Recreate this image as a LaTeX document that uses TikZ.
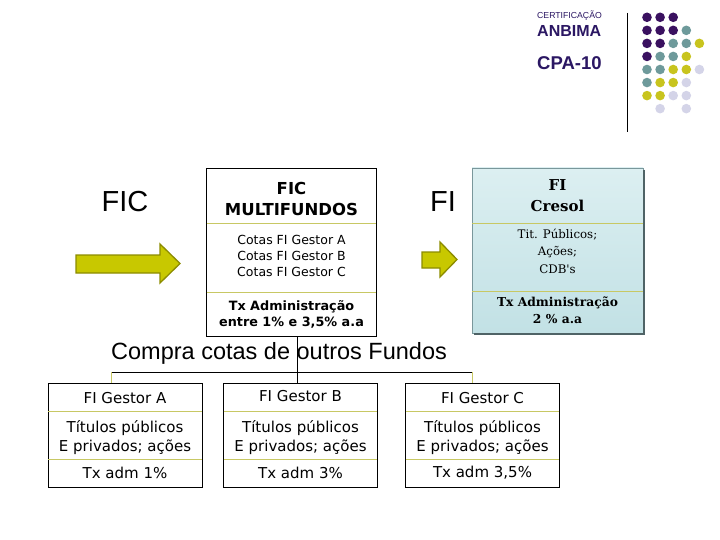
\documentclass[tikz,border=0pt]{standalone}
\usepackage{fontspec}
\setmainfont{DejaVu Sans}
\newfontfamily\arialf{Liberation Sans}
\newfontfamily\serf{DejaVu Serif}
\usetikzlibrary{calc}
\definecolor{dP}{HTML}{3A1160}
\definecolor{dT}{HTML}{6E9A9B}
\definecolor{dY}{HTML}{C8C41E}
\definecolor{dL}{HTML}{D4D4E8}
\definecolor{navy}{HTML}{2B1763}
\definecolor{arrfill}{HTML}{C8C800}
\definecolor{arrline}{HTML}{8C8C00}
\definecolor{divline}{HTML}{C8C864}
\definecolor{crestop}{HTML}{DCEFF1}
\definecolor{cresbot}{HTML}{C2E1E5}
\definecolor{cresline}{HTML}{7A979B}
\definecolor{cresshadow}{HTML}{4F6366}
\begin{document}
\begin{tikzpicture}[x=1pt,y=-1pt,
  dot/.style={circle,inner sep=0pt,minimum size=9.6pt},
  box/.style={draw=black,line width=0.8pt,inner sep=0pt,fill=white},
  divl/.style={draw=divline,line width=1pt},
  conn/.style={draw=black,line width=0.8pt},
  yconn/.style={draw=divline,line width=1pt},
  arrowshape/.style={fill=arrfill,draw=arrline,line width=1.3pt,line join=miter},
  txt/.style={inner sep=0pt,align=center},
  cellfont/.style={font=\fontsize{15}{19}\selectfont},
]
\fill[white] (0,0) rectangle (720,540);
\useasboundingbox (0,0) rectangle (720,540);

% ---------- header ----------
\node[anchor=base west,inner sep=0pt,text=navy,font=\arialf\fontsize{8.7}{10}\selectfont] (cert) at (537,18.8) {CERTIFICAÇÃO};
\node[anchor=base west,inner sep=0pt,text=navy,font=\arialf\bfseries\fontsize{16}{18}\selectfont] (anb) at (537,36.5) {ANBIMA};
\node[anchor=base west,inner sep=0pt,text=navy,font=\arialf\bfseries\fontsize{18.5}{20}\selectfont] (cpa) at (537,70) {CPA-10};
\coordinate (vt) at (627,13);
\coordinate (vb) at (627,132);
\draw[line width=1pt] (vt) -- (vb);

\foreach \c/\r/\col [count=\i] in {
  0/0/dP,1/0/dP,2/0/dP,
  0/1/dP,1/1/dP,2/1/dP,3/1/dT,
  0/2/dP,1/2/dP,2/2/dT,3/2/dT,4/2/dY,
  0/3/dP,1/3/dT,2/3/dT,3/3/dY,
  0/4/dT,1/4/dT,2/4/dY,3/4/dY,4/4/dL,
  0/5/dT,1/5/dY,2/5/dY,3/5/dL,
  0/6/dY,1/6/dY,2/6/dL,3/6/dL,
  1/7/dL,3/7/dL}
  \node[dot,fill=\col] (dot\i) at ({647+13.1*\c},{17.3+13.05*\r}) {};

% ---------- FIC / FI labels and arrows ----------
\node[inner sep=0pt,font=\arialf\fontsize{29}{32}\selectfont] (fic) at (125,202) {FIC};
\node[inner sep=0pt,font=\arialf\fontsize{29}{32}\selectfont] (fi) at (443,202) {FI};

\draw[arrowshape] (76,255) -- (160,255) -- (160,244) -- (180,263.5) -- (160,283) -- (160,273) -- (76,273) -- cycle;
\draw[arrowshape] (422,252) -- (440,252) -- (440,242) -- (457,259.5) -- (440,277) -- (440,268) -- (422,268) -- cycle;

% ---------- FIC MULTIFUNDOS box ----------
\node[box,minimum width=170pt,minimum height=168pt] (fm) at (291.5,252) {};
\draw[divl] ($(fm.north west)+(0.5,56)$) -- ($(fm.north east)+(-0.5,56)$);
\draw[divl] ($(fm.north west)+(0.5,124.5)$) -- ($(fm.north east)+(-0.5,124.5)$);
\node[txt,font=\bfseries\fontsize{16.5}{21.7}\selectfont] (fmh) at (291.5,199) {FIC\\MULTIFUNDOS};
\node[txt,font=\fontsize{12.5}{16}\selectfont] (fmm) at (291.5,255.5) {Cotas FI Gestor A\\Cotas FI Gestor B\\Cotas FI Gestor C};
\node[txt,font=\bfseries\fontsize{12.8}{16.7}\selectfont] (fmb) at (291.5,314.5) {Tx Administração\\entre 1\% e 3,5\% a.a};

% ---------- FI Cresol box ----------
\node[inner sep=0pt,minimum width=171pt,minimum height=165pt,top color=crestop,bottom color=cresbot,draw=cresline,line width=0.8pt] (cr) at (557.5,250.5) {};
\draw[cresshadow,line width=1.4pt] ($(cr.north east)+(0.5,2)$) -- ($(cr.south east)+(0.5,0.5)$) -- ($(cr.south west)+(2,0.5)$);
\draw[divl] ($(cr.north west)+(0.5,56)$) -- ($(cr.north east)+(-0.5,56)$);
\draw[divl] ($(cr.north west)+(0.5,123.5)$) -- ($(cr.north east)+(-0.5,123.5)$);
\node[txt,font=\serf\bfseries\fontsize{15}{21}\selectfont] (crh) at (557.5,196) {FI\\Cresol};
\node[txt,font=\serf\fontsize{11.8}{17.5}\selectfont] (crm) at (557.5,251) {Tit. Públicos;\\Ações;\\CDB's};
\node[txt,font=\serf\bfseries\fontsize{12.3}{17}\selectfont] (crb) at (557.5,310) {Tx Administração\\2 \% a.a};

% ---------- Compra cotas ----------
\node[anchor=base west,inner sep=0pt,font=\arialf\fontsize{23.5}{26}\selectfont] (compra) at (111,359) {Compra cotas de outros Fundos};

% ---------- bottom boxes ----------
\foreach \nm/\cx/\hy/\tx in {A/125/398/{1\%}, B/300.5/396.5/{3\%}, C/482.5/398/{3,5\%}}{
  \node[box,minimum width=154pt,minimum height=104pt] (\nm) at (\cx,435) {};
  \draw[divl] ($(\nm.north west)+(0.5,28.5)$) -- ($(\nm.north east)+(-0.5,28.5)$);
  \draw[divl] ($(\nm.north west)+(0.5,76.5)$) -- ($(\nm.north east)+(-0.5,76.5)$);
  \node[txt,cellfont] (\nm h) at (\cx,\hy) {FI Gestor \nm};
  \node[txt,cellfont] (\nm m) at (\cx,437.5) {Títulos públicos\\E privados; ações};
  \node[txt,cellfont] (\nm b) at (\cx,473) {Tx adm \tx};
}

% ---------- connectors ----------
\coordinate (jc) at (297,372);
\coordinate (jl) at (111,372);
\coordinate (jr) at (472,372);
\draw[conn] (fm.south -| jc) -- (jc);
\draw[conn] (jl) -- (jr);
\draw[yconn] (jl) -- (jl |- A.north);
\draw[conn] (jc) -- (jc |- B.north);
\draw[yconn] (jr) -- (jr |- C.north);
\end{tikzpicture}
\end{document}
